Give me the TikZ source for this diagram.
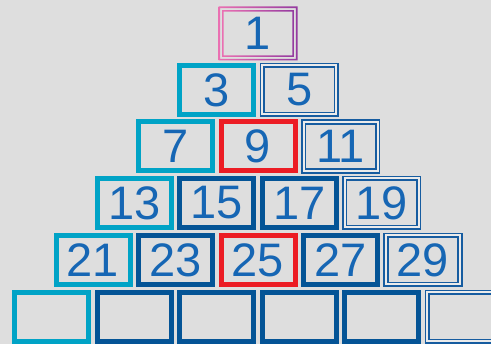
\documentclass[tikz,border=0pt]{standalone}
\usepackage{fontspec}
\setmainfont{Liberation Sans}
\usepackage{tikz}
\usetikzlibrary{calc}
\definecolor{bggray}{RGB}{222,222,222}
\definecolor{cyanc}{RGB}{0,163,198}
\definecolor{navyc}{RGB}{4,84,150}
\definecolor{dblue}{RGB}{22,92,160}
\definecolor{redc}{RGB}{236,28,36}
\definecolor{txtblue}{RGB}{22,102,180}
\definecolor{pinkc}{RGB}{234,112,178}
\definecolor{purplec}{RGB}{148,58,160}
\tikzset{
  basebox/.style={rectangle,inner sep=0pt,minimum width=74pt,minimum height=49pt,
    text=txtblue,font=\fontsize{47}{47}\selectfont},
  edgebox/.style={basebox,draw=cyanc,line width=5pt},
  midbox/.style={basebox,draw=navyc,line width=5pt},
  redbox/.style={basebox,draw=redc,line width=5pt},
  dblbox/.style={basebox,draw=dblue,line width=1.6pt,double=bggray!60!white,double distance=2pt},
  topbox/.style={basebox,minimum width=79pt,minimum height=54pt,outer sep=0pt},
  ringshade/.style={left color=pinkc,right color=purplec,even odd rule}
}

\begin{document}
\begin{tikzpicture}[x=1pt,y=-1pt]
  \fill[bggray] (0,0) rectangle (491,344);
  \clip (0,0) rectangle (491,344);

  % row 1
  \node[topbox] (n1) at (258,33.5) {1};
  \shade[ringshade] (n1.north west) rectangle (n1.south east)
    ($(n1.north west)+(1.6,1.6)$) rectangle ($(n1.south east)+(-1.6,-1.6)$);
  \shade[ringshade] ($(n1.north west)+(3.6,3.6)$) rectangle ($(n1.south east)+(-3.6,-3.6)$)
    ($(n1.north west)+(5.2,5.2)$) rectangle ($(n1.south east)+(-5.2,-5.2)$);

  % row 2
  \node[edgebox] (n3) at (216.75,90) {3};
  \node[dblbox] (n5) at (299.25,90) {5};

  % row 3
  \node[edgebox] (n7) at (175.5,146.5) {7};
  \node[redbox] (n9) at (258,146.5) {9};
  \node[dblbox] (n11) at (340.5,146.5) {11};

  % row 4
  \node[edgebox] (n13) at (134.25,203) {13};
  \node[midbox] (n15) at (216.75,203) {15};
  \node[midbox] (n17) at (299.25,203) {17};
  \node[dblbox] (n19) at (381.75,203) {19};

  % row 5
  \node[edgebox] (n21) at (93,260) {21};
  \node[midbox] (n23) at (175.5,260) {23};
  \node[redbox] (n25) at (258,260) {25};
  \node[midbox] (n27) at (340.5,260) {27};
  \node[dblbox] (n29) at (423,260) {29};

  % row 6 (empty)
  \node[edgebox] (e1) at (51.75,317) {};
  \node[midbox] (e2) at (134.25,317) {};
  \node[midbox] (e3) at (216.75,317) {};
  \node[midbox] (e4) at (299.25,317) {};
  \node[midbox] (e5) at (381.75,317) {};
  \node[dblbox] (e6) at (464.25,317) {};
\end{tikzpicture}
\end{document}
